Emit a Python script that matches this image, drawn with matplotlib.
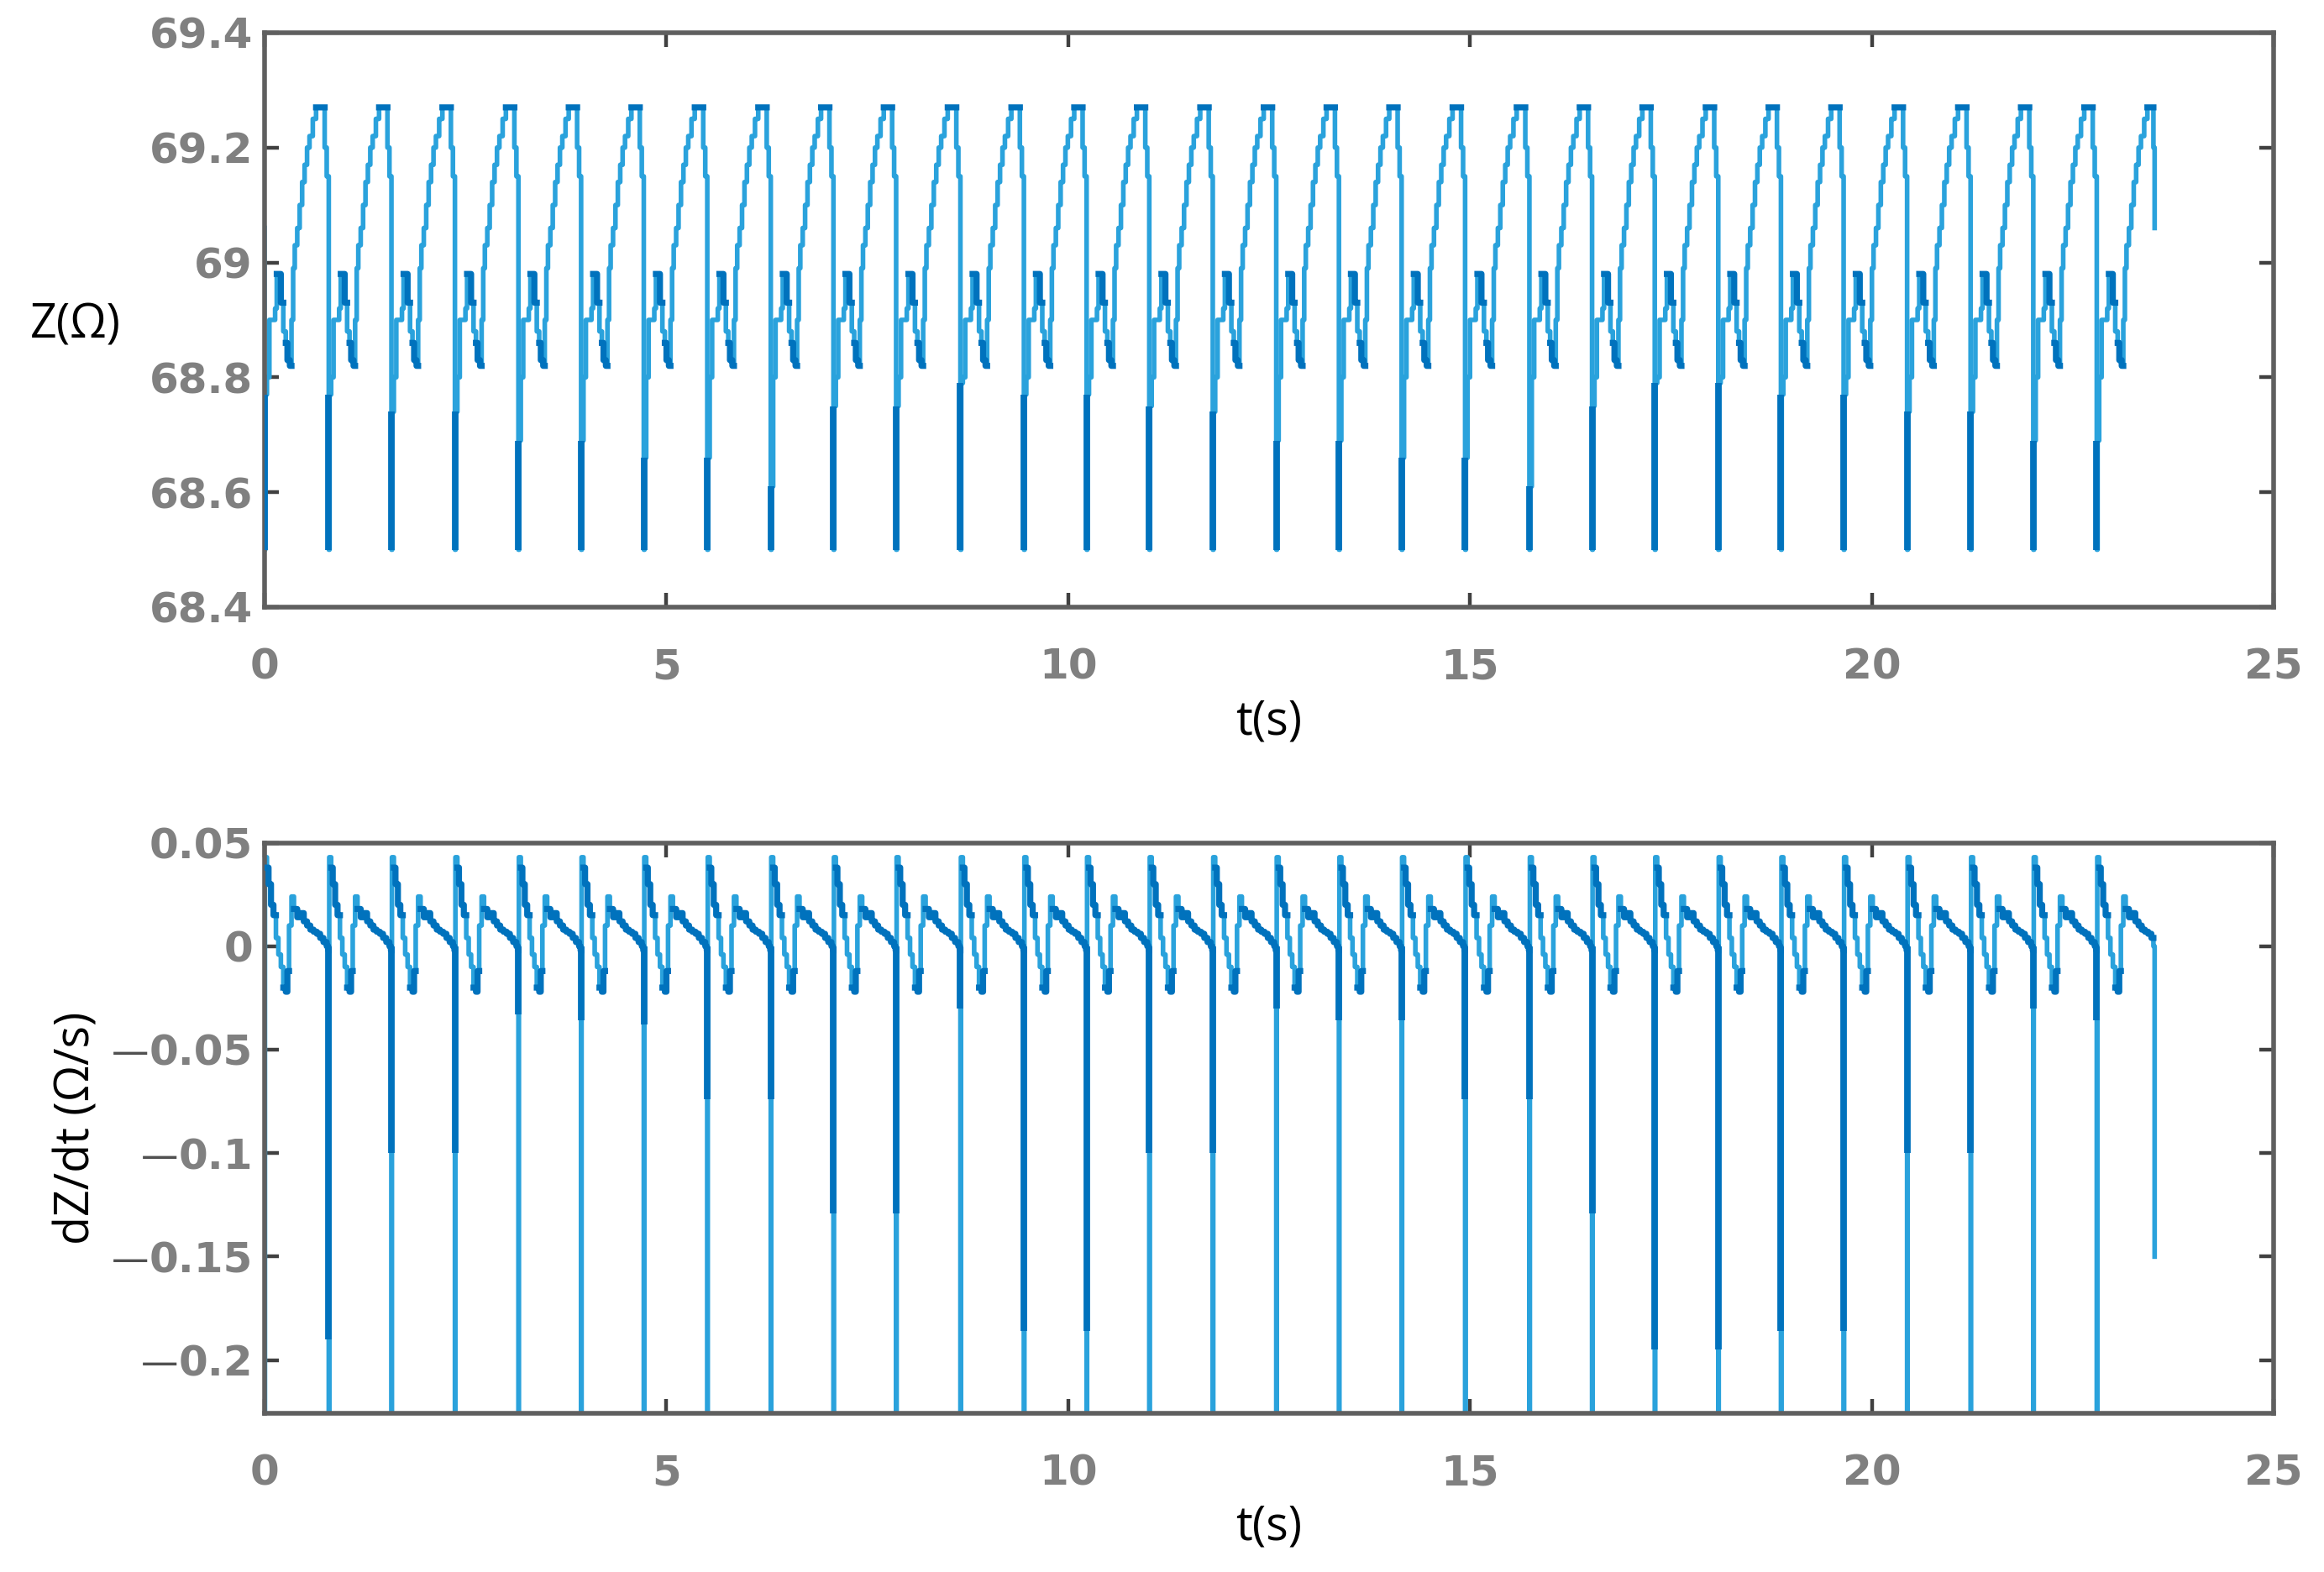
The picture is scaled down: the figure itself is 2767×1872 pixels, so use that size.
import numpy as np
import matplotlib
matplotlib.use('Agg')
import matplotlib.pyplot as plt

# ------------------------------------------------------------------ data
# trough (sharp drop) times of each heartbeat (s)
trough_times = [0.0, 0.80, 1.58, 2.37, 3.16, 3.94, 4.72, 5.51, 6.30, 7.08,
                7.86, 8.66, 9.45, 10.23, 11.01, 11.80, 12.59, 13.37, 14.15, 14.94,
                15.74, 16.52, 17.30, 18.09, 18.87, 19.65, 20.44, 21.23, 22.01, 22.80]
end_time = 23.52
nominal_period = 0.785

# Z level right after each trough (top of the dark rebound), Ohm
rebound_z = [68.77, 68.77, 68.74, 68.74, 68.69, 68.69, 68.66, 68.66, 68.61, 68.75,
             68.75, 68.79, 68.77, 68.77, 68.75, 68.74, 68.69, 68.69, 68.66, 68.66,
             68.61, 68.75, 68.79, 68.79, 68.77, 68.77, 68.74, 68.74, 68.69, 68.69]

# depth reached by the dark part of each dZ/dt spike, Ohm/s
spike_dark_depth = [0.0, -0.19, -0.10, -0.10, -0.033, -0.036, -0.038, -0.074, -0.074, -0.129,
                    -0.129, -0.03, -0.186, -0.186, -0.10, -0.10, -0.03, -0.036, -0.036, -0.074,
                    -0.074, -0.129, -0.195, -0.195, -0.186, -0.186, -0.10, -0.10, -0.03, -0.036]

# one beat of Z (offset from trough in s, value in Ohm)
z_cycle_offsets = [0.000, 0.010, 0.030, 0.060, 0.130, 0.150, 0.190, 0.200, 0.230, 0.260,
                   0.280, 0.310, 0.330, 0.350, 0.370, 0.400, 0.430, 0.460, 0.490, 0.520,
                   0.550, 0.590, 0.630, 0.720, 0.735, 0.760]
z_cycle_values = [68.50, 68.77, 68.80, 68.90, 68.92, 68.98, 68.98, 68.93, 68.88, 68.86,
                  68.83, 68.82, 68.90, 68.99, 69.03, 69.06, 69.10, 69.14, 69.17, 69.20,
                  69.22, 69.25, 69.27, 69.27, 69.20, 69.15]
z_start_value = 69.06
z_end_values = [69.20, 69.06]

# one beat of dZ/dt (offset from trough in s, value in Ohm/s)
dz_cycle_offsets = [0.000, 0.006, 0.030, 0.050, 0.080, 0.110, 0.140, 0.170, 0.200, 0.230,
                    0.260, 0.280, 0.300, 0.330, 0.360, 0.400, 0.440, 0.480, 0.520, 0.560,
                    0.600, 0.640, 0.680, 0.720, 0.760, 0.778]
dz_cycle_values = [-0.30, 0.043, 0.038, 0.030, 0.020, 0.015, 0.004, -0.004, -0.010, -0.020,
                   -0.022, -0.012, 0.010, 0.024, 0.018, 0.014, 0.016, 0.012, 0.010, 0.008,
                   0.007, 0.006, 0.004, 0.002, 0.000, -0.002]
dz_start_value = 0.0
dz_end_values = [0.0, -0.15]

z_ticks = [68.4, 68.6, 68.8, 69.0, 69.2, 69.4]
z_ticklabels = ['68.4', '68.6', '68.8', '69', '69.2', '69.4']
dz_ticks = [-0.2, -0.15, -0.1, -0.05, 0.0, 0.05]
dz_ticklabels = ['0.2', '0.15', '0.1', '0.05', '0', '0.05']
t_ticks = [0, 5, 10, 15, 20, 25]
t_ticklabels = ['0', '5', '10', '15', '20', '25']

# ------------------------------------------------------------------ build series
def build(offsets, values, start_val, end_vals, rebound=None):
    t, v, off_list = [0.0], [start_val], [-1.0]
    n = len(trough_times)
    for k, T in enumerate(trough_times):
        period = trough_times[k + 1] - T if k + 1 < n else nominal_period
        s = period / nominal_period
        for i, (o, val) in enumerate(zip(offsets, values)):
            tt = T + o * s
            if k == n - 1 and tt > end_time - 0.03:
                break
            if rebound is not None and i == 1:
                val = rebound[k]
            t.append(tt)
            v.append(val)
            off_list.append(o)
    t += [end_time - 0.015, end_time]
    v += list(end_vals)
    off_list += [-1.0, -1.0]
    return np.array(t), np.array(v), np.array(off_list)

tz, zv, zoff = build(z_cycle_offsets, z_cycle_values, z_start_value, z_end_values, rebound_z)
td, dv, doff = build(dz_cycle_offsets, dz_cycle_values, dz_start_value, dz_end_values)

def in_ranges(off, ranges):
    m = np.zeros(len(off), bool)
    for a, b in ranges:
        m |= (off >= a) & (off <= b)
    return m

z_dark = np.where(in_ranges(zoff, [(0.15, 0.20), (0.26, 0.31), (0.63, 0.72)]), zv, np.nan)
d_dark = np.where(in_ranges(doff, [(0.03, 0.11), (0.23, 0.28), (0.36, 0.778)]), dv, np.nan)

# ------------------------------------------------------------------ style
LIGHT = '#2aa2dc'
DARK = '#0072bd'
TICKGREY = '#808080'
SPINE = '#5f5f5f'
LABEL_FS = 20
TICK_FS = 18

fig = plt.figure(figsize=(2767 / 200, 1872 / 200), dpi=200)
ax1 = fig.add_axes([0.1138, 0.6138, 0.9783 - 0.1138, 0.9792 - 0.6138])
ax2 = fig.add_axes([0.1138, 0.1010, 0.9783 - 0.1138, 0.4639 - 0.1010])

ax1.plot(tz, zv, color=LIGHT, lw=2.0, drawstyle='steps-post', zorder=2)
ax1.plot(tz, z_dark, color=DARK, lw=2.6, drawstyle='steps-post', zorder=3)
ax1.vlines(trough_times, 68.5, rebound_z, color=DARK, lw=2.8, zorder=3)

ax2.plot(td, dv, color=LIGHT, lw=2.0, drawstyle='steps-post', zorder=2)
ax2.plot(td, d_dark, color=DARK, lw=2.6, drawstyle='steps-post', zorder=3)
ax2.vlines(trough_times, spike_dark_depth, 0.0, color=DARK, lw=2.8, zorder=3)

ax1.set_ylim(68.4, 69.4)
ax2.set_ylim(-0.2257, 0.05)
ax1.set_yticks(z_ticks, z_ticklabels)
ax2.set_yticks(dz_ticks, dz_ticklabels)
for ax in (ax1, ax2):
    ax.set_xlim(0, 25)
    ax.set_xticks(t_ticks, t_ticklabels)
    ax.tick_params(direction='in', length=6, width=1.6, top=True, right=True,
                   color='#404040', labelcolor=TICKGREY, labelsize=TICK_FS)
    ax.tick_params(axis='x', pad=17)
    ax.tick_params(axis='y', pad=5)
    for lab in ax.get_xticklabels() + ax.get_yticklabels():
        lab.set_fontweight('bold')
        lab.set_fontfamily('DejaVu Sans')
        lab.set_fontsize(TICK_FS)
    for sp in ax.spines.values():
        sp.set_color(SPINE)
        sp.set_linewidth(2.0)
    ax.set_xlabel('t(s)', fontsize=LABEL_FS, fontfamily='Open Sans', color='black')
    ax.xaxis.set_label_coords(0.5, -0.20)
    ax.xaxis.label.set_va('center')

ax1.set_ylabel('Z(Ω)', rotation=0, fontsize=LABEL_FS, fontfamily='Open Sans', color='black')
ax1.yaxis.set_label_coords(-0.094, 0.49)
ax1.yaxis.label.set_ha('center')
ax1.yaxis.label.set_va('center')

ax2.set_ylabel('dZ/dt (Ω/s)', fontsize=LABEL_FS, fontfamily='Open Sans', color='black')
ax2.yaxis.set_label_coords(-0.093, 0.50)
ax2.yaxis.label.set_va('center')

# thin dashes in front of the negative tick labels
for val, tick in zip(dz_ticks, ax2.yaxis.get_major_ticks(len(dz_ticks))):
    if val < 0:
        ax2.annotate('—', xy=(0, 0.5), xycoords=tick.label1, ha='right', va='center',
                     fontsize=16, color='#505050', fontfamily='DejaVu Sans',
                     annotation_clip=False)

fig.savefig('out.png', dpi=200, facecolor='white')
